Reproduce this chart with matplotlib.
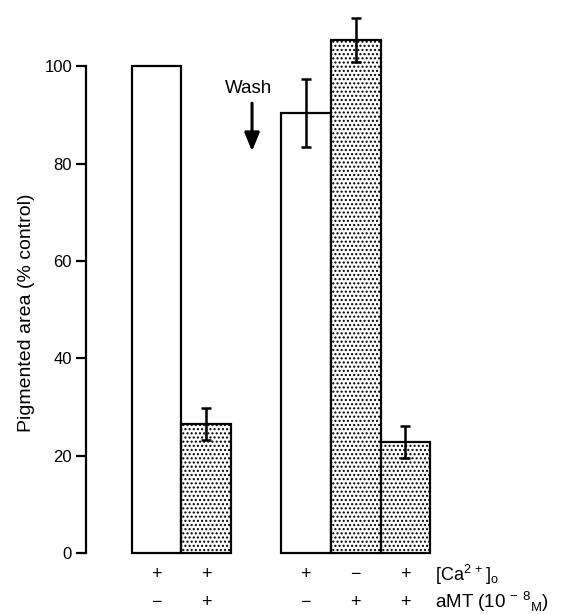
import matplotlib

matplotlib.use("Agg")
import matplotlib.pyplot as plt

plt.rcParams["font.family"] = ["Liberation Sans", "DejaVu Sans"]
plt.rcParams["mathtext.fontset"] = "custom"
plt.rcParams["mathtext.rm"] = "Liberation Sans"
plt.rcParams["hatch.linewidth"] = 1.0

# bar data (% control)
positions = [0, 1, 3, 4, 5]
values = [100, 26.5, 90.5, 105.5, 22.8]
err_lo = [0, 3.2, 7.0, 4.5, 3.3]
err_hi = [0, 3.2, 7.0, 4.5, 3.3]
shaded = [False, True, False, True, True]
ca_signs = ["+", "+", "+", "−", "+"]
amt_signs = ["−", "+", "−", "+", "+"]
yticks = [0, 20, 40, 60, 80, 100]

fig = plt.figure(figsize=(5.63, 6.15), dpi=100)
ax = fig.add_axes([86 / 563, 62 / 615, 0.70, 545 / 615])

for x, v, s in zip(positions, values, shaded):
    ax.bar(x, v, width=1.0, facecolor="white", edgecolor="black", linewidth=1.6,
           hatch="...." if s else None, clip_on=False, zorder=2)

for x, v, lo, hi in zip(positions, values, err_lo, err_hi):
    if lo or hi:
        ax.errorbar(x, v, yerr=[[lo], [hi]], fmt="none", ecolor="black",
                    elinewidth=1.8, capsize=3.6, capthick=1.8, clip_on=False, zorder=3)

ax.set_xlim(-1.414, 6.5)
ax.set_ylim(0, 112)
ax.set_yticks(yticks)
ax.tick_params(axis="y", direction="out", length=7, width=1.6, labelsize=12, pad=3)
ax.set_xticks([])
for side in ["top", "right", "bottom"]:
    ax.spines[side].set_visible(False)
ax.spines["left"].set_bounds(0, 100)
ax.spines["left"].set_linewidth(1.6)
ax.set_ylabel("Pigmented area (% control)", fontsize=14, labelpad=8)
ax.yaxis.set_label_coords(-0.13, 0.44)

# wash marker
ax.text(1.85, 95.5, "Wash", ha="center", va="center", fontsize=13.5)
ax.annotate("", xy=(1.92, 82.0), xytext=(1.92, 93.0),
            arrowprops=dict(arrowstyle="-|>,head_length=1.1,head_width=0.45",
                            color="black", lw=2.2))

# condition rows under the bars
tr = ax.get_xaxis_transform()
for x, c, a in zip(positions, ca_signs, amt_signs):
    ax.text(x, -0.040, c, transform=tr, ha="center", va="center", fontsize=13)
    ax.text(x, -0.090, a, transform=tr, ha="center", va="center", fontsize=13)
ax.text(5.6, -0.040, "[Ca$^{2\\,+}$]$_\\mathrm{o}$", transform=tr, ha="left",
        va="center", fontsize=13)
ax.text(5.6, -0.090, "aMT (10$^{\\,-\\,8}$$_\\mathrm{M}$)", transform=tr, ha="left",
        va="center", fontsize=13.5)

fig.savefig("out.png", dpi=100)
